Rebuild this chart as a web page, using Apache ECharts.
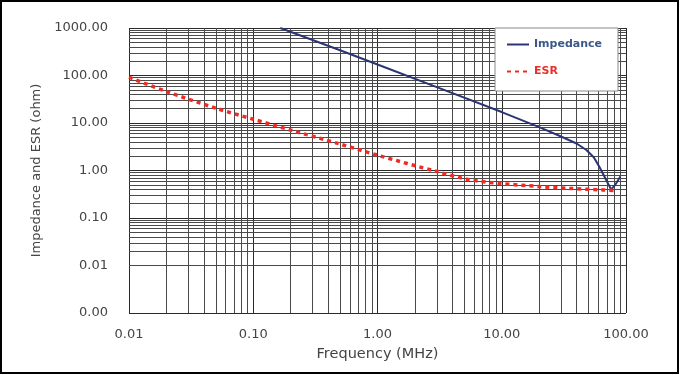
<!DOCTYPE html>
<html>
<head>
<meta charset="utf-8">
<script src="https://cdn.jsdelivr.net/npm/echarts@6/dist/echarts.min.js"></script>
<style>
  html, body { margin: 0; padding: 0; background: #fff; }
  #chart { width: 681px; height: 375px; }
</style>
</head>
<body>
<div id="chart"></div>
<script>
// frequency in MHz, values in ohm
const impFreq = [0.165, 0.5, 1, 3, 10, 20, 30, 40, 48, 55, 61, 67, 72, 76, 82, 90]
const impValues = [1000, 340, 170, 57, 17, 8.2, 5.2, 3.7, 2.7, 1.9, 1.2, 0.75, 0.52, 0.4, 0.5, 0.75]
const esrFreq = [0.01, 0.02, 0.05, 0.1, 0.2, 0.5, 1, 3, 5.5, 10, 20, 35, 65, 80]
const esrValues = [92, 46, 20.5, 12, 7.1, 3.6, 2.1, 0.95, 0.64, 0.53, 0.46, 0.42, 0.39, 0.38]

// decades shown on each axis (exponents) and the minor grid multipliers
const xDecades = [-2, -1, 0, 1]
const yDecades = [-3, -2, -1, 0, 1, 2]
const minorSteps = [2, 3, 4, 5, 6, 7, 8, 9]

const font = "DejaVu Sans"

function minorLines(decades, key) {
  const out = []
  decades.forEach(function (d) {
    minorSteps.forEach(function (m) {
      const o = {}
      o[key] = +(m * Math.pow(10, d)).toPrecision(3)
      out.push(o)
    })
  })
  return out
}

const fmt = function (v) { return Number(v).toFixed(2) }

const chart = echarts.init(document.getElementById("chart"))
chart.setOption({
  animation: false,
  backgroundColor: "#fff",
  graphic: [{
    type: "rect",
    shape: { x: 1, y: 1, width: 677, height: 372 },
    style: { fill: "none", stroke: "#000", lineWidth: 2 },
    silent: true
  }],
  grid: { left: 129, right: 55, top: 28, bottom: 62 },
  legend: {
    orient: "vertical",
    left: 495,
    top: 28,
    padding: [11, 16, 14, 11],
    itemGap: 16,
    itemWidth: 22,
    itemHeight: 12,
    itemTextGap: 9,
    backgroundColor: "#fff",
    borderColor: "#8a8a8a",
    borderWidth: 1,
    itemStyle: { opacity: 0 },
    textStyle: { fontFamily: font, fontSize: 11, fontWeight: "bold" },
    data: [
      { name: "Impedance", textStyle: { color: "#3a5888" } },
      { name: "ESR", textStyle: { color: "#e8302a" } }
    ]
  },
  xAxis: {
    type: "log",
    logBase: 10,
    min: 0.01,
    max: 100,
    name: "Frequency (MHz)",
    nameLocation: "middle",
    nameGap: 34,
    nameTextStyle: { fontFamily: font, fontSize: 14.5, color: "#444" },
    axisLine: { show: false },
    axisTick: { show: false },
    axisLabel: { formatter: fmt, margin: 15, fontFamily: font, fontSize: 13, color: "#444" },
    splitLine: { show: true, lineStyle: { color: "#2a2a2a", width: 1 } }
  },
  yAxis: {
    type: "log",
    logBase: 10,
    min: 0.001,
    max: 1000,
    name: "Impedance and ESR (ohm)",
    nameLocation: "middle",
    nameGap: 83,
    nameTextStyle: { fontFamily: font, fontSize: 13, color: "#444" },
    axisLine: { show: false },
    axisTick: { show: false },
    axisLabel: { formatter: fmt, margin: 21, fontFamily: font, fontSize: 13, color: "#444" },
    splitLine: { show: true, lineStyle: { color: "#2a2a2a", width: 1 } }
  },
  series: [
    {
      name: "grid",
      type: "line",
      data: [],
      z: 1,
      silent: true,
      markLine: {
        z: 1,
        silent: true,
        symbol: "none",
        label: { show: false },
        lineStyle: { type: "solid", color: "#4a4a4a", width: 1 },
        data: minorLines(xDecades, "xAxis").concat(minorLines(yDecades, "yAxis"))
      }
    },
    {
      name: "Impedance",
      type: "line",
      z: 3,
      showSymbol: false,
      symbol: "none",
      clip: true,
      data: impFreq.map(function (f, i) { return [f, impValues[i]] }),
      lineStyle: { color: "#2b3576", width: 2 },
      itemStyle: { color: "#2b3576" }
    },
    {
      name: "ESR",
      type: "line",
      z: 4,
      showSymbol: false,
      symbol: "none",
      smooth: 0.3,
      data: esrFreq.map(function (f, i) { return [f, esrValues[i]] }),
      lineStyle: { color: "#ee2a24", width: 3.5, type: [4, 4], cap: "butt" },
      itemStyle: { color: "#ee2a24" }
    }
  ]
})
</script>
</body>
</html>
